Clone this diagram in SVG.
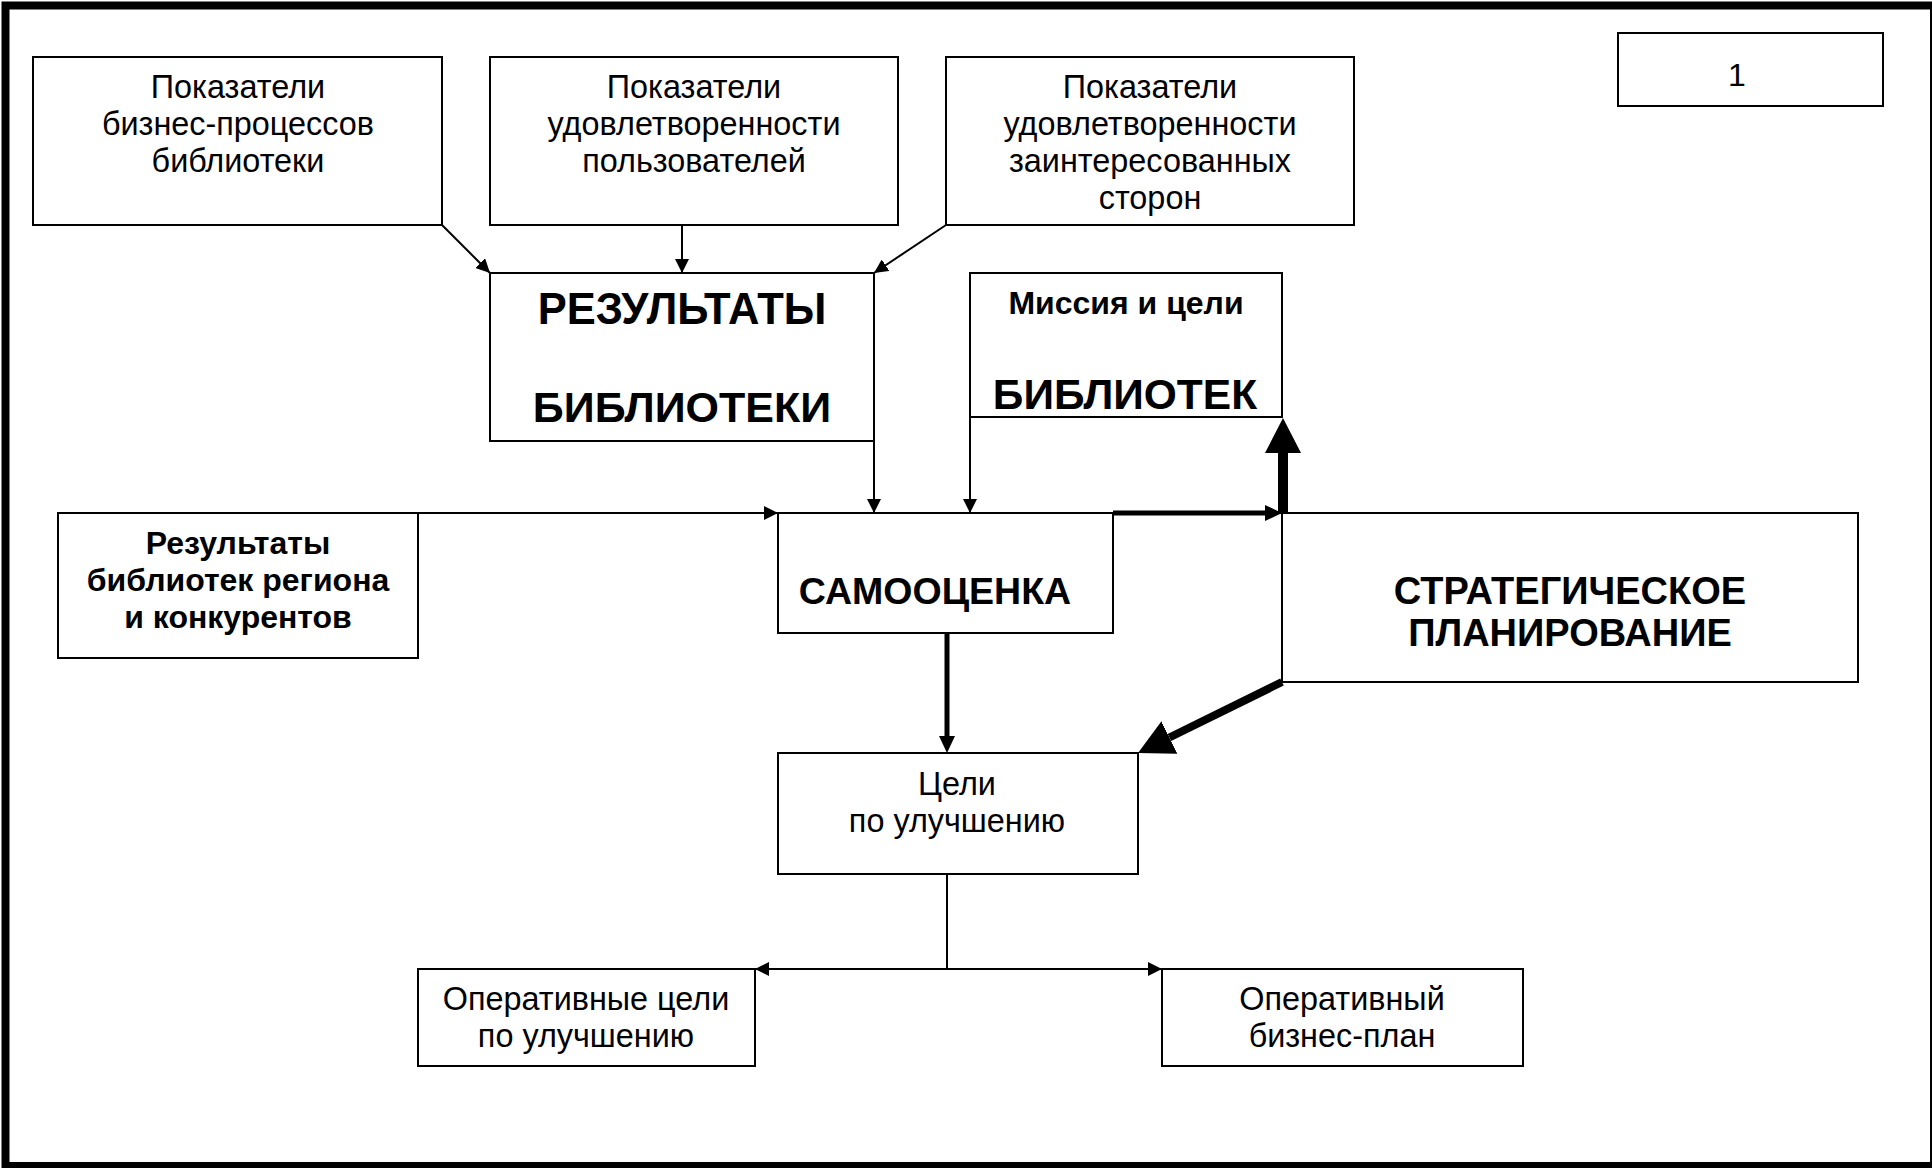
<svg xmlns="http://www.w3.org/2000/svg" width="1932" height="1168" viewBox="0 0 1932 1168">
<style>
.box{fill:#fff;stroke:#000;stroke-width:2}
.t{font-family:"Liberation Sans",Arial,sans-serif;font-size:32.4px;fill:#000;text-anchor:middle}
.b{font-weight:bold;font-size:32px}
.ln{fill:none;stroke:#000;stroke-width:2}
.th{fill:none;stroke:#000;stroke-width:5}
.tb{fill:none;stroke:#000;stroke-width:10}
.td{fill:none;stroke:#000;stroke-width:8}
</style>
<defs>
<marker id="ah" markerUnits="userSpaceOnUse" markerWidth="14" markerHeight="14" viewBox="0 0 14 14" refX="14" refY="7" orient="auto"><path d="M0,0L14,7L0,14z" fill="#000"/></marker>
<marker id="am" markerUnits="userSpaceOnUse" markerWidth="17" markerHeight="16" viewBox="0 0 17 16" refX="0" refY="8" orient="auto"><path d="M0,0L17,8L0,16z" fill="#000"/></marker>
<marker id="ab" markerUnits="userSpaceOnUse" markerWidth="35" markerHeight="36" viewBox="0 0 35 36" refX="0" refY="18" orient="auto"><path d="M0,0L35,18L0,36z" fill="#000"/></marker>
</defs>
<rect x="0" y="0" width="1932" height="1168" fill="#fff"/>
<rect x="5.5" y="5.5" width="1928.5" height="1160.5" fill="none" stroke="#000" stroke-width="8"/>

<g id="n1"><rect class="box" x="33" y="57" width="409" height="168"/>
<text class="t" x="238" y="98">Показатели</text><text class="t" x="238" y="135">бизнес-процессов</text><text class="t" x="238" y="172">библиотеки</text></g>
<g id="n2"><rect class="box" x="490" y="57" width="408" height="168"/>
<text class="t" x="694" y="98">Показатели</text><text class="t" x="694" y="135">удовлетворенности</text><text class="t" x="694" y="172">пользователей</text></g>
<g id="n3"><rect class="box" x="946" y="57" width="408" height="168"/>
<text class="t" x="1150" y="98">Показатели</text><text class="t" x="1150" y="135">удовлетворенности</text><text class="t" x="1150" y="172">заинтересованных</text><text class="t" x="1150" y="209">сторон</text></g>
<g id="n4"><rect class="box" x="1618" y="33" width="265" height="73"/>
<text class="t" x="1737" y="86" style="font-size:32px">1</text></g>
<g id="n5"><rect class="box" x="490" y="273" width="384" height="168"/>
<text class="t b" x="682" y="324" style="font-size:43.5px">РЕЗУЛЬТАТЫ</text><text class="t b" x="682" y="422" style="font-size:43px">БИБЛИОТЕКИ</text></g>
<g id="n6"><rect class="box" x="970" y="273" width="312" height="144"/>
<text class="t b" x="1126" y="314">Миссия и цели</text><text class="t b" x="1125" y="409" style="font-size:42.5px">БИБЛИОТЕК</text></g>
<g id="n7"><rect class="box" x="58" y="513" width="360" height="145"/>
<text class="t b" x="238" y="554">Результаты</text><text class="t b" x="238" y="591">библиотек региона</text><text class="t b" x="238" y="628">и конкурентов</text></g>
<g id="n8"><rect class="box" x="778" y="513" width="335" height="120"/>
<text class="t b" x="935" y="604" style="font-size:37.5px">САМООЦЕНКА</text></g>
<g id="n9"><rect class="box" x="1282" y="513" width="576" height="169"/>
<text class="t b" x="1570" y="604" style="font-size:38px">СТРАТЕГИЧЕСКОЕ</text><text class="t b" x="1570" y="646" style="font-size:38px">ПЛАНИРОВАНИЕ</text></g>
<g id="n10"><rect class="box" x="778" y="753" width="360" height="121"/>
<text class="t" x="957" y="795">Цели</text><text class="t" x="957" y="832">по улучшению</text></g>
<g id="n11"><rect class="box" x="418" y="969" width="337" height="97"/>
<text class="t" x="586" y="1010">Оперативные цели</text><text class="t" x="586" y="1047">по улучшению</text></g>
<g id="n12"><rect class="box" x="1162" y="969" width="361" height="97"/>
<text class="t" x="1342" y="1010">Оперативный</text><text class="t" x="1342" y="1047">бизнес-план</text></g>

<g id="connectors">
<path class="ln" d="M442,225L490,273" marker-end="url(#ah)"/>
<path class="ln" d="M682,225L682,273" marker-end="url(#ah)"/>
<path class="ln" d="M946,225L874,273" marker-end="url(#ah)"/>
<path class="ln" d="M874,441L874,513" marker-end="url(#ah)"/>
<path class="ln" d="M970,417L970,513" marker-end="url(#ah)"/>
<path class="ln" d="M418,513L778,513" marker-end="url(#ah)"/>
<path class="th" d="M1113,513L1265,513" marker-end="url(#am)"/>
<path class="tb" d="M1283,514L1283,453" marker-end="url(#ab)"/>
<path class="th" d="M947,633L947,736" marker-end="url(#am)"/>
<path class="td" d="M1282,682L1169.4,737.5" marker-end="url(#ab)"/>
<path class="ln" d="M947,874L947,969"/>
<path class="ln" d="M947,969L755,969" marker-end="url(#ah)"/>
<path class="ln" d="M947,969L1162,969" marker-end="url(#ah)"/>
</g>
</svg>
